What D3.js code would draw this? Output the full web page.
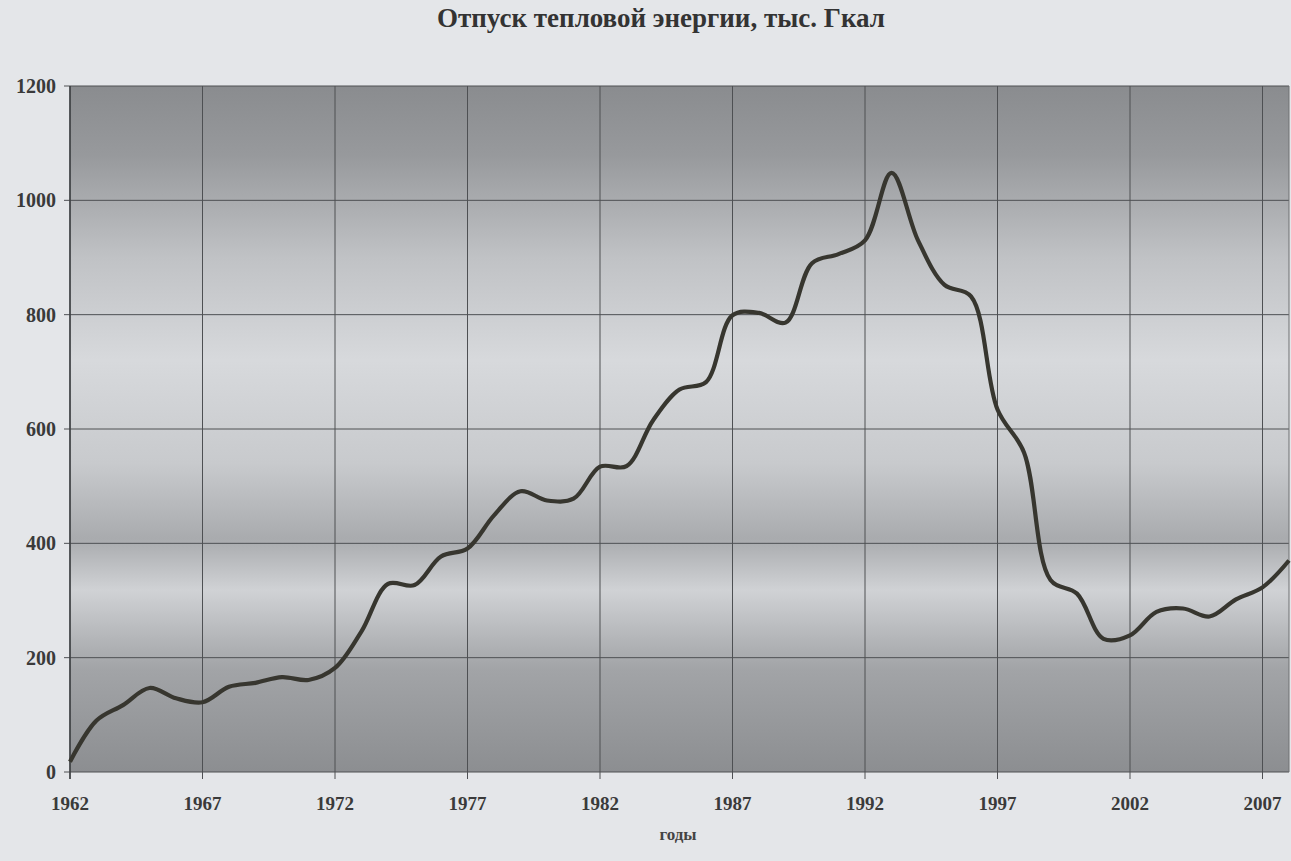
<!DOCTYPE html>
<html><head><meta charset="utf-8">
<script src="https://cdn.jsdelivr.net/npm/d3@7"></script>
<style>
html,body{margin:0;padding:0;background:#e4e6e9;}
svg{display:block;}
</style></head>
<body><svg id="chart" width="1291" height="861"></svg>
<script>
const title = "Отпуск тепловой энергии, тыс. Гкал";
const xAxisTitle = "годы";
const years = [1962,1963,1964,1965,1966,1967,1968,1969,1970,1971,1972,1973,1974,1975,1976,1977,1978,1979,1980,1981,1982,1983,1984,1985,1986,1987,1988,1989,1990,1991,1992,1993,1994,1995,1996,1997,1998,1999,2000,2001,2002,2003,2004,2005,2006,2007,2008];
const values = [18,90,117,147,129,122,149,156,166,161,182,246,329,327,377,391,449,491,475,478,534,535,615,669,682,799,803,786,890,906,930,1048,930,852,832,634,559,336,312,233,239,280,286,272,302,323,370];
const xTicks = [1962,1967,1972,1977,1982,1987,1992,1997,2002,2007];
const yTicks = [0,200,400,600,800,1000,1200];

const svg = d3.select("#chart");
const m = {left:70, right:1289, top:86, bottom:772};

const x = d3.scaleLinear().domain([1962,2008]).range([m.left, m.right]);
const y = d3.scaleLinear().domain([0,1200]).range([m.bottom, m.top]);

const defs = svg.append("defs");
const g = defs.append("linearGradient").attr("id","bg").attr("x1",0).attr("y1",0).attr("x2",0).attr("y2",1);
[[0,"#8a8c8f"],[0.1,"#97999c"],[0.25,"#c0c2c5"],[0.4,"#d7d9dc"],[0.55,"#c8cacd"],[0.66,"#a9abae"],[0.735,"#d0d2d5"],[0.85,"#a2a4a7"],[1,"#8c8e91"]]
  .forEach(([o,c])=>g.append("stop").attr("offset",o).attr("stop-color",c));

svg.append("rect").attr("x",m.left).attr("y",m.top).attr("width",m.right-m.left).attr("height",m.bottom-m.top).attr("fill","url(#bg)");

// gridlines
svg.append("g").selectAll("line").data(yTicks).join("line")
  .attr("x1",m.left-6).attr("x2",m.right).attr("y1",d=>y(d)).attr("y2",d=>y(d))
  .attr("stroke","#4e5053").attr("stroke-width",1);
svg.append("g").selectAll("line").data(xTicks).join("line")
  .attr("y1",m.top).attr("y2",m.bottom+7).attr("x1",d=>x(d)).attr("x2",d=>x(d))
  .attr("stroke","#4e5053").attr("stroke-width",1);
svg.append("line").attr("x1",m.left).attr("x2",m.left).attr("y1",m.top).attr("y2",m.bottom+7).attr("stroke","#3e4043").attr("stroke-width",1.5);
svg.append("line").attr("x1",m.right).attr("x2",m.right).attr("y1",m.top).attr("y2",m.bottom).attr("stroke","#6e7073").attr("stroke-width",1);

const font = "'Liberation Serif','Times New Roman',serif";
svg.append("g").selectAll("text").data(yTicks).join("text")
  .attr("x",m.left-14).attr("y",d=>y(d)+7).attr("text-anchor","end")
  .attr("font-family",font).attr("font-weight","bold").attr("font-size",20).attr("fill","#3a3a3a")
  .text(d=>d);
svg.append("g").selectAll("text").data(xTicks).join("text")
  .attr("x",d=>x(d)).attr("y",810).attr("text-anchor","middle")
  .attr("font-family",font).attr("font-weight","bold").attr("font-size",19).attr("fill","#3a3a3a")
  .text(d=>d);

svg.append("text").attr("x",661).attr("y",27).attr("text-anchor","middle")
  .attr("font-family",font).attr("font-weight","bold").attr("font-size",27).attr("fill","#333")
  .text(title);
svg.append("text").attr("x",678).attr("y",840).attr("text-anchor","middle")
  .attr("font-family",font).attr("font-weight","bold").attr("font-size",17).attr("fill","#444")
  .text(xAxisTitle);

const line = d3.line().x((d,i)=>x(years[i])).y(d=>y(d)).curve(d3.curveCatmullRom.alpha(0.5));
svg.append("path").attr("d",line(values)).attr("fill","none")
  .attr("stroke","#37362f").attr("stroke-width",4.2).attr("stroke-linejoin","round");
</script></body></html>
